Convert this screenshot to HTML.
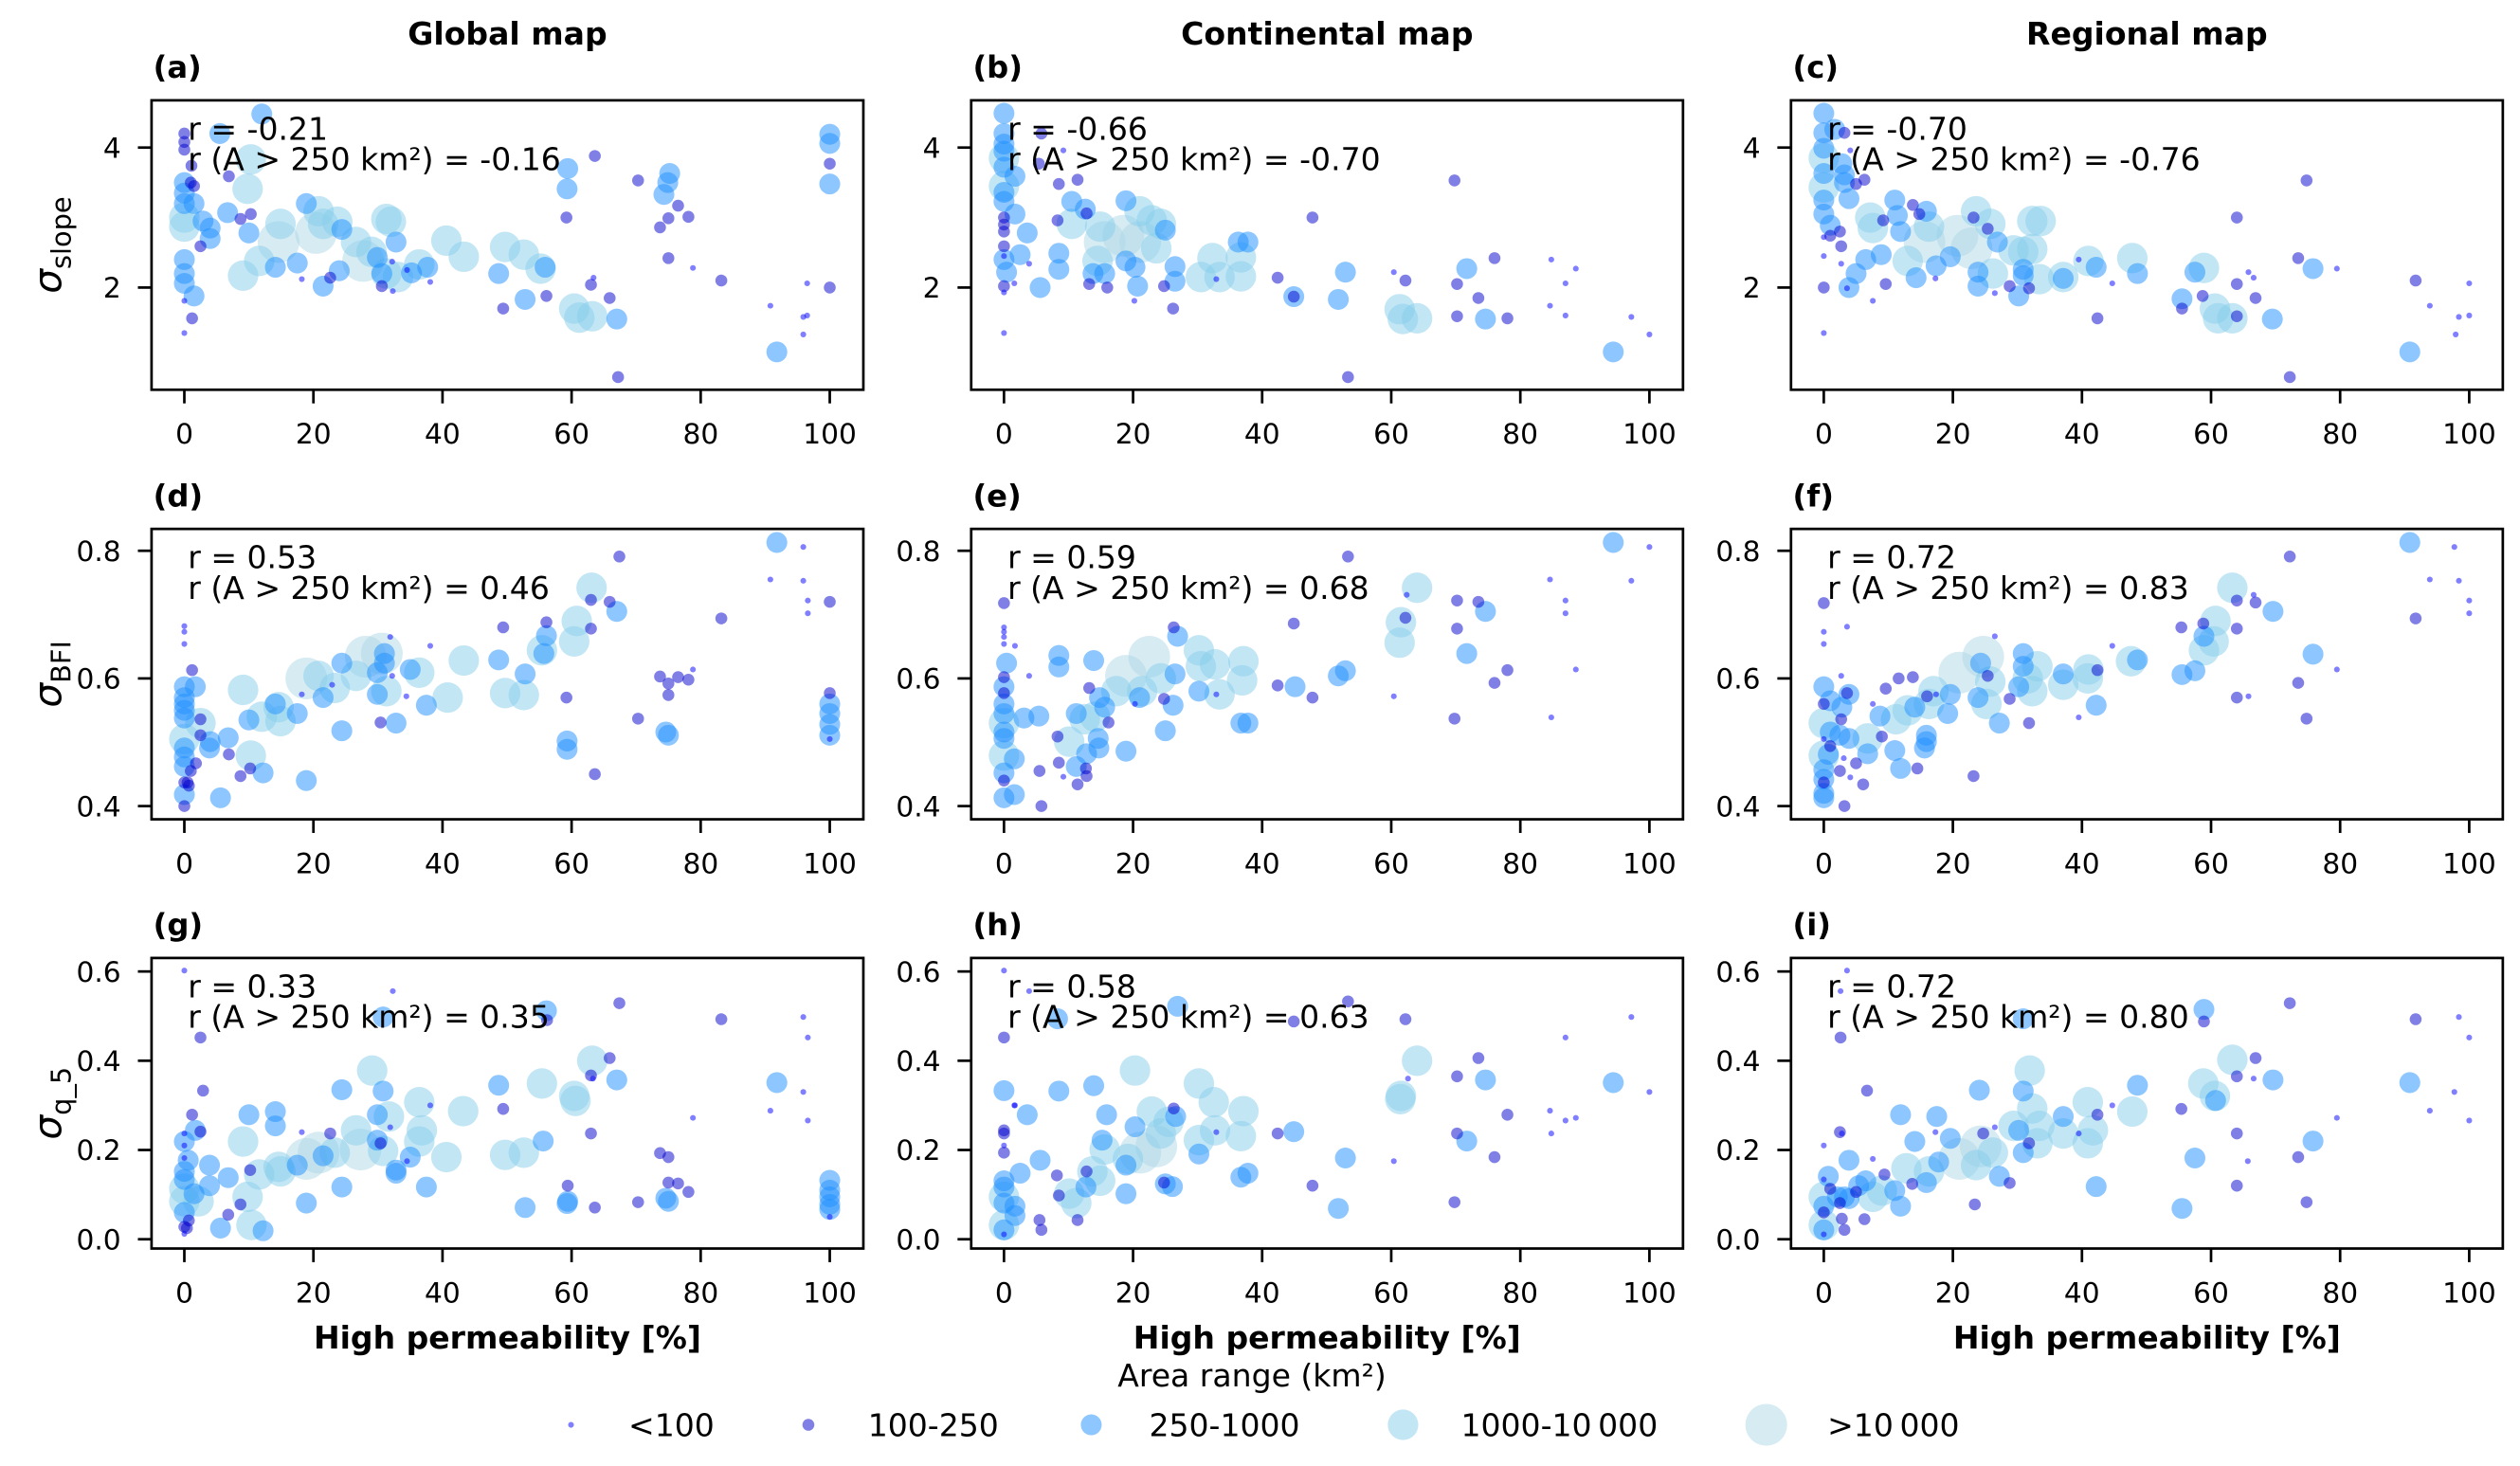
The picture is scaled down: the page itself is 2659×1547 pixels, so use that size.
<!DOCTYPE html>
<html><head><meta charset="utf-8">
<style>
html,body{margin:0;padding:0;background:#fff;}
svg{display:block;}
text{font-family:"DejaVu Sans","Liberation Sans",sans-serif;fill:#000;}
</style></head>
<body>
<svg id="fig" xmlns="http://www.w3.org/2000/svg" width="2659" height="1547" viewBox="0 0 1568 912"></svg>
<script>
// ---- data: [high permeability %, value, area class] ----
const sizeClasses = ["<100","100-250","250-1000","1000-10\u2009000",">10\u2009000"];
const colTitles = ["Global map","Continental map","Regional map"];
const panelLetters = ["(a)","(b)","(c)","(d)","(e)","(f)","(g)","(h)","(i)"];
const rValues = ["-0.21","-0.66","-0.70","0.53","0.59","0.72","0.33","0.58","0.72"];
const rLargeValues = ["-0.16","-0.70","-0.76","0.46","0.68","0.83","0.35","0.63","0.80"];
const yTicksSlope = [2,4];
const yTicksBFI = [0.4,0.6,0.8];
const yTicksQ5 = [0.0,0.2,0.4,0.6];
const xTicks = [0,20,40,60,80,100];

const panelA = [[12,4.48,2],[5.5,4.2,2],[10.3,3.83,3],[9.8,3.41,3],[6.9,3.59,1],[0,4.2,1],[0,4.08,1],[0,3.97,1],[1.1,3.74,1],[0,3.5,2],[1,3.5,1],[1.5,3.45,1],[0,3.35,2],[0,3.2,2],[1.5,3.2,2],[0,3.0,3],[0,2.87,3],[2.9,2.95,2],[4,2.85,2],[4,2.7,2],[2.5,2.59,1],[0,2.4,2],[0,2.2,2],[0,2.06,2],[1.5,1.88,2],[1.2,1.56,1],[0,1.81,0],[0,1.35,0],[6.7,3.07,2],[8.7,2.98,1],[10.3,3.05,1],[10,2.78,2],[9.1,2.17,3],[11.6,2.38,3],[14.9,2.91,3],[14.6,2.65,4],[14.1,2.29,2],[17.5,2.35,2],[18.9,3.2,2],[20.8,3.09,3],[20.4,2.78,4],[21.5,2.91,3],[23.7,2.94,3],[24.4,2.83,2],[18.2,2.12,0],[21.5,2.02,2],[22.6,2.14,1],[24,2.24,2],[26.6,2.65,3],[29,2.51,3],[27.7,2.38,4],[31.3,2.98,3],[32,2.94,3],[32.8,2.65,2],[29.9,2.43,2],[30.6,2.2,2],[30.6,2.02,1],[32.2,2.37,0],[34.5,2.25,0],[32.3,1.95,0],[38.1,2.08,0],[31.3,2.2,3],[33.1,2.15,3],[36.4,2.33,3],[37.7,2.29,2],[35.2,2.21,2],[40.6,2.67,3],[43.3,2.44,3],[48.7,2.2,2],[49.7,2.58,3],[52.6,2.47,3],[55.2,2.27,3],[55.9,2.29,2],[49.4,1.7,1],[52.8,1.83,2],[56.1,1.88,1],[59.4,3.7,2],[59.3,3.41,2],[59.2,3.0,1],[63.6,3.88,1],[60.4,1.7,3],[61.2,1.57,3],[63.2,1.59,3],[63,2.04,1],[63.4,2.14,0],[65.9,1.85,1],[67,1.55,2],[67.2,0.72,1],[70.3,3.53,1],[75.2,3.63,2],[74.9,3.5,2],[74.3,3.33,2],[76.5,3.17,1],[75,2.99,1],[73.7,2.86,1],[78.1,3.01,1],[75,2.42,1],[78.8,2.28,0],[83.2,2.1,1],[91.8,1.08,2],[90.8,1.74,0],[96.5,2.06,0],[96.5,1.6,0],[95.9,1.58,0],[95.9,1.33,0],[100,4.19,2],[100,4.06,2],[100,3.77,1],[100,3.48,2],[100,2.0,1]];

const panelB = [[0,4.49,2],[0,4.2,2],[0,4.05,2],[0,3.95,2],[0,3.85,3],[0,3.72,2],[1.7,3.59,2],[0,3.45,3],[0,3.36,2],[0,3.23,2],[5.8,4.2,1],[9.2,3.96,0],[5.4,3.77,1],[8.5,3.48,1],[11.4,3.54,1],[1.7,3.05,2],[0,3.0,1],[0,2.9,1],[0,2.8,1],[0,2.59,1],[3.6,2.78,2],[2.5,2.47,2],[0,2.4,2],[0.4,2.22,2],[0,2.45,0],[3.9,2.34,0],[1.6,2.06,0],[0,2.02,1],[0,1.93,0],[5.6,2.0,2],[0,1.35,0],[8.5,2.49,2],[8.5,2.26,2],[10.5,3.23,2],[10.5,2.91,3],[8.3,2.96,1],[12.8,3.06,1],[12.6,3.12,2],[14.9,2.87,3],[15.6,2.65,4],[14.5,2.38,3],[13.8,2.2,2],[15.6,2.2,2],[13.2,2.05,1],[16,2.0,1],[18.9,3.24,2],[21,3.09,3],[22.9,2.96,3],[24.3,2.91,3],[18.5,2.74,4],[21.1,2.65,4],[23.6,2.56,3],[18.9,2.38,2],[20.3,2.29,2],[20.7,2.02,2],[20.2,1.81,0],[25,2.82,2],[26.5,2.3,2],[26.5,2.09,2],[24.8,2.02,1],[26.2,1.7,1],[30.5,2.15,3],[32.3,2.42,3],[33.4,2.15,3],[36.7,2.43,3],[36.7,2.16,3],[36.3,2.65,2],[37.8,2.65,2],[32.9,2.12,0],[42.4,2.14,1],[44.9,1.87,2],[44.9,1.87,1],[47.8,3.0,1],[52.9,2.22,2],[51.8,1.83,2],[53.3,0.72,1],[60.4,2.22,0],[62.2,2.1,1],[61.3,1.69,3],[61.8,1.55,3],[64,1.56,3],[69.8,3.53,1],[70.2,2.05,1],[71.7,2.27,2],[76,2.42,1],[73.5,1.85,1],[70.2,1.59,1],[74.6,1.55,2],[78,1.56,1],[84.8,2.4,0],[88.6,2.27,0],[87,2.06,0],[84.6,1.74,0],[87,1.6,0],[97.2,1.58,0],[100,1.33,0],[94.4,1.08,2]];

const panelC = [[0,4.49,2],[0,4.21,2],[1.7,4.26,2],[3.2,4.21,1],[0,3.99,2],[4.1,3.96,0],[0,3.85,3],[2.8,3.77,2],[3.2,3.61,2],[6.3,3.54,1],[5,3.48,1],[0,3.63,2],[0,3.43,3],[0,3.25,2],[0,3.05,2],[3.2,3.5,2],[3.9,3.27,2],[1,2.89,2],[2.5,2.8,1],[1,2.74,1],[0,2.72,0],[2.7,2.59,1],[0,2.45,0],[2.7,2.34,0],[0,2.0,1],[3.9,2.0,2],[3.6,1.99,0],[7.6,1.81,0],[0,1.35,0],[6.5,2.4,2],[5,2.2,2],[8.9,2.47,2],[9.6,2.05,1],[11,3.25,2],[13.8,3.18,1],[7.2,3.0,3],[7.6,2.85,3],[11.4,3.03,2],[11.9,2.8,2],[9.2,2.96,1],[15.9,3.09,2],[14.8,3.05,1],[16.3,2.87,3],[15.6,2.65,4],[13,2.38,3],[14.3,2.14,2],[17.4,2.31,2],[17.3,2.13,0],[19.6,2.44,2],[20.7,2.74,4],[23.6,3.09,3],[23.2,3.0,1],[22.9,2.56,4],[25.8,2.91,3],[25.4,2.84,1],[26.2,2.2,3],[23.9,2.22,2],[23.9,2.02,2],[26.9,2.65,2],[29.4,2.53,3],[30.9,2.51,3],[32.3,2.55,3],[32.3,2.95,3],[33.6,2.95,3],[30.9,2.26,2],[30.9,2.17,2],[30.2,1.88,2],[28.8,2.02,1],[31.8,1.99,1],[26.5,1.92,0],[33.4,2.12,3],[37.1,2.15,3],[37.1,2.13,2],[39.5,2.4,0],[41,2.38,3],[42.2,2.29,2],[44.7,2.06,0],[42.4,1.56,1],[47.8,2.42,3],[48.6,2.2,2],[55.5,1.84,2],[55.5,1.7,1],[57.5,2.22,2],[58.9,2.28,3],[58.7,1.88,1],[60.6,1.7,3],[61.1,1.56,3],[63.3,1.56,3],[64,1.59,1],[64,3.0,1],[64,2.05,1],[65.8,2.22,0],[66.6,2.14,0],[66.9,1.85,1],[69.5,1.55,2],[74.8,3.53,1],[73.5,2.42,1],[75.8,2.27,2],[79.5,2.27,0],[72.2,0.72,1],[90.8,1.08,2],[91.7,2.1,1],[93.9,1.74,0],[100,2.06,0],[100,1.6,0],[98.4,1.58,0],[97.9,1.33,0]];

const panelD = [[91.8,0.813,2],[95.9,0.806,0],[90.8,0.755,0],[95.9,0.753,0],[96.6,0.722,0],[96.6,0.702,0],[100,0.72,1],[67.4,0.791,1],[63.1,0.742,3],[63,0.723,1],[65.9,0.72,1],[67,0.705,2],[60.8,0.69,3],[60.4,0.658,3],[63,0.678,1],[56.1,0.688,1],[56.1,0.667,2],[55.4,0.644,3],[55.7,0.639,2],[49.4,0.68,1],[83.2,0.694,1],[78.8,0.614,0],[73.7,0.603,1],[75,0.592,1],[76.5,0.602,1],[78.1,0.598,1],[75,0.574,1],[74.6,0.516,2],[75,0.511,2],[70.3,0.537,1],[59.2,0.57,1],[59.3,0.502,2],[59.3,0.489,2],[63.6,0.45,1],[100,0.577,1],[100,0.56,2],[100,0.545,2],[100,0.528,2],[100,0.511,2],[100,0.505,0],[43.3,0.628,3],[48.7,0.629,2],[52.8,0.607,2],[49.7,0.577,3],[52.6,0.574,3],[40.8,0.57,3],[37.5,0.558,2],[36.4,0.609,3],[35,0.614,2],[38.1,0.651,0],[34.4,0.572,0],[31.9,0.665,0],[31,0.639,2],[31,0.624,2],[29.9,0.609,2],[29.9,0.575,2],[28.1,0.634,4],[30.6,0.639,4],[31.3,0.58,3],[32.2,0.604,0],[32.8,0.53,2],[30.4,0.531,1],[26.6,0.604,3],[24.4,0.624,2],[23.3,0.585,3],[21.5,0.57,2],[18.9,0.6,4],[20.8,0.604,3],[18.2,0.575,0],[22.9,0.59,0],[17.5,0.545,2],[24.4,0.518,2],[18.9,0.44,2],[14.6,0.555,3],[14.9,0.533,3],[14.1,0.56,2],[12,0.54,3],[10,0.535,2],[9.1,0.582,3],[10.3,0.479,3],[12.2,0.452,2],[10.2,0.459,1],[8.7,0.447,1],[6.9,0.481,1],[6.8,0.507,2],[5.6,0.413,2],[3.9,0.491,2],[4,0.501,2],[2.5,0.536,1],[2.5,0.511,1],[2.5,0.53,3],[0,0.682,0],[0,0.673,0],[0,0.654,0],[1.2,0.613,1],[0,0.587,2],[1.7,0.587,2],[0,0.57,2],[0,0.56,2],[0,0.55,2],[0,0.538,2],[0,0.505,3],[0,0.491,2],[0,0.477,2],[0,0.462,2],[1,0.455,1],[1.8,0.467,1],[0,0.437,1],[0.5,0.437,1],[0.7,0.432,1],[0,0.418,2],[0,0.4,1]];

const panelE = [[94.4,0.813,2],[100,0.806,0],[84.6,0.755,0],[97.2,0.753,0],[87,0.722,0],[87,0.702,0],[53.3,0.791,1],[64,0.742,3],[62.4,0.731,0],[61.5,0.688,3],[62.2,0.695,1],[61.3,0.656,3],[70.2,0.722,1],[73.5,0.72,1],[74.6,0.705,2],[70.2,0.678,1],[71.7,0.639,2],[78,0.613,1],[76,0.593,1],[88.6,0.614,0],[60.4,0.572,0],[69.8,0.537,1],[84.8,0.539,0],[44.9,0.686,1],[51.8,0.604,2],[52.9,0.612,2],[45.1,0.587,2],[42.4,0.589,1],[47.8,0.57,1],[36.7,0.53,2],[37.8,0.53,2],[37.1,0.627,3],[36.9,0.597,3],[33.4,0.575,3],[32.9,0.575,0],[30.2,0.644,3],[32.7,0.622,3],[30.5,0.619,3],[30.2,0.58,2],[26.9,0.666,2],[26.3,0.68,1],[26.5,0.607,2],[26.2,0.558,2],[25,0.518,2],[24.8,0.568,1],[22.5,0.634,4],[18.9,0.604,4],[24.3,0.6,3],[21.4,0.58,3],[21,0.57,2],[20.3,0.56,0],[17.4,0.58,3],[15.6,0.555,2],[14.8,0.57,2],[16.2,0.531,1],[14.1,0.54,3],[13.2,0.585,1],[13.9,0.628,2],[8.5,0.636,2],[8.5,0.618,2],[3.9,0.604,0],[11.2,0.545,2],[12.5,0.536,3],[10.1,0.501,3],[12.8,0.482,2],[14.6,0.506,2],[14.7,0.491,2],[8.3,0.509,1],[11.2,0.462,2],[12.7,0.459,1],[12.8,0.447,1],[11.4,0.434,1],[9.2,0.446,0],[8.5,0.468,1],[5.5,0.455,1],[5.8,0.4,1],[18.9,0.486,2],[3.1,0.538,2],[5.4,0.541,2],[0,0.718,1],[0,0.68,0],[0,0.673,0],[0,0.665,0],[0,0.654,0],[1.7,0.651,0],[0.4,0.624,2],[0,0.602,1],[0,0.587,2],[0,0.577,1],[0,0.56,2],[0,0.545,2],[0,0.53,3],[0,0.516,2],[0,0.506,2],[0,0.479,3],[1.6,0.474,2],[0,0.452,2],[0,0.44,1],[0,0.413,2],[1.6,0.418,2]];

const panelF = [[90.8,0.813,2],[97.7,0.806,0],[93.9,0.755,0],[98.4,0.753,0],[100,0.722,0],[100,0.702,0],[91.7,0.694,1],[72.2,0.791,1],[63.3,0.742,3],[64,0.722,1],[66.9,0.719,1],[66.6,0.731,0],[69.6,0.705,2],[60.7,0.69,3],[60.4,0.658,3],[64,0.678,1],[55.4,0.68,1],[58.8,0.686,1],[58.9,0.666,2],[58.9,0.644,3],[55.5,0.606,2],[57.5,0.612,2],[75.8,0.638,2],[79.5,0.614,0],[73.5,0.593,1],[64,0.57,1],[65.8,0.572,0],[74.8,0.537,1],[44.7,0.651,0],[48.6,0.629,2],[47.6,0.627,3],[42.4,0.613,1],[41,0.614,3],[40.9,0.6,3],[42.2,0.558,2],[39.5,0.539,0],[37.1,0.607,2],[37.1,0.59,3],[33.1,0.619,3],[32.3,0.58,3],[31.6,0.6,3],[30.9,0.639,2],[30.9,0.619,2],[30.2,0.587,2],[28.8,0.568,1],[31.8,0.53,1],[27.2,0.53,2],[26.5,0.666,0],[24.7,0.634,4],[24.3,0.624,2],[21,0.609,4],[25.8,0.595,3],[25.4,0.604,1],[23.9,0.57,2],[25.2,0.56,3],[19.6,0.575,2],[17,0.58,3],[16.3,0.56,3],[16,0.572,1],[17.4,0.575,0],[19.2,0.545,2],[15.9,0.511,2],[15.9,0.501,2],[15.6,0.491,2],[14.5,0.459,1],[23.2,0.447,1],[13.8,0.602,1],[11.6,0.6,1],[9.6,0.584,1],[13,0.55,3],[14.1,0.555,2],[11.2,0.536,3],[8.7,0.541,2],[7.6,0.56,0],[9,0.509,1],[6.8,0.506,3],[6.8,0.482,2],[11,0.487,2],[11.9,0.459,2],[5,0.467,1],[6.1,0.434,1],[4.1,0.445,0],[3.2,0.4,1],[0,0.587,2],[3.9,0.575,2],[3.6,0.577,1],[1,0.565,2],[0,0.56,1],[2.8,0.555,2],[2.7,0.536,1],[0,0.53,3],[1,0.516,2],[2.5,0.511,2],[3.9,0.506,2],[1,0.494,1],[0,0.505,0],[0,0.479,3],[0.7,0.481,2],[3.1,0.475,0],[0,0.457,2],[2.5,0.455,1],[0,0.442,2],[0,0.437,1],[0,0.42,2],[0,0.413,2],[2.7,0.604,0],[0,0.718,1],[0,0.673,0],[0,0.654,0],[3.6,0.681,0]];

const panelG = [[0,0.602,0],[32.3,0.556,0],[30.8,0.498,2],[56.1,0.512,2],[56.2,0.491,1],[67.4,0.529,1],[83.2,0.493,1],[2.5,0.452,1],[95.9,0.498,0],[96.6,0.452,0],[63.2,0.4,3],[65.9,0.406,1],[63,0.367,1],[63.3,0.36,0],[67,0.357,2],[55.4,0.349,3],[60.4,0.321,3],[60.6,0.31,3],[48.7,0.345,2],[49.4,0.292,1],[43.2,0.287,3],[63,0.237,1],[55.6,0.22,2],[52.6,0.194,3],[49.7,0.189,3],[91.8,0.351,2],[95.9,0.33,0],[90.8,0.288,0],[96.6,0.266,0],[78.8,0.272,0],[73.7,0.193,1],[75,0.184,1],[75,0.127,1],[76.5,0.125,1],[78.1,0.106,1],[74.6,0.092,2],[75,0.085,2],[70.3,0.083,1],[59.4,0.12,1],[59.4,0.085,2],[59.3,0.08,2],[63.6,0.071,1],[52.8,0.071,2],[100,0.132,2],[100,0.11,2],[100,0.095,2],[100,0.078,2],[100,0.067,2],[100,0.05,0],[29.1,0.378,3],[30.8,0.332,2],[36.4,0.307,3],[38.1,0.3,0],[36.8,0.244,3],[36.4,0.219,3],[29.9,0.279,2],[31.7,0.275,3],[31.9,0.251,0],[29.9,0.222,2],[30.4,0.215,1],[30.8,0.198,3],[26.6,0.244,3],[27.3,0.201,4],[35,0.184,2],[34.5,0.175,0],[32.8,0.155,2],[32.8,0.148,2],[37.5,0.117,2],[40.6,0.184,3],[24.4,0.335,2],[24.4,0.117,2],[22.6,0.237,1],[21.5,0.187,2],[20.8,0.194,4],[23.3,0.194,3],[18.9,0.18,4],[17.5,0.166,2],[18.2,0.24,0],[18.9,0.081,2],[14.6,0.162,3],[14.9,0.152,3],[11.6,0.145,3],[14.1,0.286,2],[14.1,0.254,2],[10,0.279,2],[9.1,0.219,3],[10.2,0.155,1],[9.8,0.095,3],[10.4,0.032,3],[12.2,0.019,2],[8.7,0.078,1],[6.8,0.055,1],[5.6,0.025,2],[6.8,0.138,2],[3.9,0.12,2],[3.9,0.166,2],[2.9,0.333,1],[1.2,0.279,1],[1.7,0.244,2],[2.5,0.241,1],[0,0.237,0],[0,0.219,2],[0,0.21,0],[0.6,0.177,2],[0,0.182,0],[0,0.152,2],[0,0.134,2],[0,0.113,3],[0,0.085,3],[2.2,0.085,3],[1.5,0.102,2],[0,0.06,2],[0.7,0.042,1],[0,0.028,1],[0.4,0.025,1],[0,0.012,0]];

const panelH = [[0,0.602,0],[3.9,0.556,0],[26.9,0.522,2],[53.3,0.533,1],[8.3,0.494,2],[44.9,0.488,1],[62.2,0.493,1],[0,0.452,1],[97.2,0.498,0],[87,0.452,0],[100,0.33,0],[84.6,0.288,0],[87,0.266,0],[88.6,0.272,0],[84.8,0.237,0],[64,0.4,3],[73.5,0.406,1],[70.2,0.365,1],[74.6,0.357,2],[62.6,0.36,0],[61.5,0.321,3],[61.4,0.314,3],[94.4,0.351,2],[78,0.279,1],[70.2,0.237,1],[71.7,0.22,2],[76,0.184,1],[69.8,0.083,1],[60.4,0.175,0],[52.9,0.182,2],[47.8,0.12,1],[51.8,0.069,2],[44.9,0.241,2],[42.4,0.237,1],[20.3,0.378,3],[30.2,0.349,3],[32.5,0.307,3],[37.1,0.287,3],[36.7,0.231,3],[32.7,0.244,3],[32.9,0.24,0],[30.2,0.222,3],[30.2,0.191,2],[36.7,0.139,2],[37.8,0.148,2],[26.3,0.293,1],[26.6,0.275,2],[25.5,0.263,3],[24.3,0.237,3],[22.9,0.286,3],[20.3,0.252,2],[23.6,0.208,4],[21.1,0.194,4],[19.2,0.18,3],[18.9,0.166,2],[15.6,0.201,3],[15.2,0.222,2],[15.9,0.279,2],[13.9,0.344,2],[8.5,0.332,2],[3.6,0.279,2],[1.7,0.3,0],[5.6,0.177,2],[2.5,0.148,2],[8.2,0.143,1],[12.8,0.152,1],[13.7,0.152,3],[14.9,0.131,3],[12.7,0.117,2],[10.1,0.102,3],[11.2,0.081,3],[18.9,0.102,2],[25,0.124,2],[24.8,0.127,1],[26.1,0.118,2],[8.5,0.098,1],[11.4,0.043,1],[5.5,0.043,1],[5.8,0.021,1],[0,0.333,2],[1.6,0.3,0],[0,0.244,1],[0,0.237,1],[0,0.21,0],[0,0.194,1],[0,0.131,2],[0,0.117,2],[0,0.095,3],[0,0.081,2],[1.7,0.074,2],[1.7,0.053,2],[0,0.032,3],[0,0.021,2],[0,0.011,0]];

const panelI = [[3.6,0.602,0],[2.6,0.556,0],[30.9,0.494,2],[58.9,0.515,2],[58.9,0.488,1],[72.2,0.529,1],[91.7,0.493,1],[98.4,0.498,0],[100,0.452,0],[2.6,0.452,1],[31.9,0.378,3],[63.3,0.402,3],[66.9,0.406,1],[64,0.365,1],[66.6,0.36,0],[69.6,0.357,2],[58.8,0.349,3],[60.6,0.321,3],[60.7,0.311,2],[48.6,0.345,2],[55.4,0.292,1],[90.8,0.351,2],[97.7,0.33,0],[93.9,0.288,0],[100,0.266,0],[79.5,0.272,0],[64,0.237,1],[75.8,0.22,2],[73.5,0.184,1],[65.7,0.175,0],[57.5,0.182,2],[64,0.12,1],[74.8,0.083,1],[55.5,0.069,2],[42.2,0.118,2],[47.8,0.286,3],[44.7,0.3,0],[40.9,0.307,3],[41.7,0.244,3],[40.9,0.215,3],[42.4,0.279,1],[39.5,0.237,0],[37.1,0.275,2],[37.1,0.237,3],[32.3,0.293,3],[30.9,0.332,2],[33.4,0.254,3],[33.1,0.215,3],[31.8,0.215,1],[30.9,0.194,2],[30.2,0.244,2],[29.4,0.254,3],[28.8,0.126,1],[27.2,0.141,2],[26.5,0.251,0],[24.1,0.334,2],[24.7,0.237,1],[24.3,0.208,4],[26.2,0.194,3],[23.6,0.166,3],[21,0.18,4],[19.6,0.226,2],[17.3,0.24,0],[17.5,0.275,2],[17.8,0.173,2],[16.3,0.152,3],[15.9,0.127,2],[14.1,0.219,2],[12.8,0.159,3],[13.7,0.124,1],[23.4,0.078,1],[11.9,0.279,2],[11,0.109,2],[11.9,0.074,2],[9.4,0.145,1],[9,0.109,3],[7.6,0.18,0],[6.7,0.333,1],[7.6,0.095,3],[6.5,0.131,2],[6.3,0.045,1],[3.9,0.177,2],[2.5,0.24,1],[2.8,0.237,0],[0,0.21,0],[0,0.134,0],[0.7,0.141,2],[1,0.113,1],[3.2,0.095,2],[3.9,0.091,2],[2.1,0.095,2],[0,0.095,3],[0,0.074,2],[2.5,0.081,1],[0,0.06,1],[2.8,0.046,1],[3.2,0.021,1],[0,0.032,3],[0,0.021,2],[0,0.011,0],[5,0.106,1],[5.4,0.12,2]];

const panelData = [panelA,panelB,panelC,panelD,panelE,panelF,panelG,panelH,panelI];
</script>
<script>
const NS = "http://www.w3.org/2000/svg";
const svg = document.getElementById('fig');
const colLeft = [94.3, 604.3, 1114.4];
const axW = 442.9;
const rowTop = [62.3, 329.0, 596.0];
const rowBot = [242.4, 509.7, 776.8];
const rowY = [
  v => 91.7 + (4 - v) * 43.55,
  v => 342.6 + (0.8 - v) * 397.2,
  v => 604.4 + (0.6 - v) * 277.7
];
const rowTicks = [yTicksSlope, yTicksBFI, yTicksQ5];
const rowTickFmt = [v => String(v), v => v.toFixed(1), v => v.toFixed(1)];
const rowLabelSub = ["slope","BFI","q_5"];
const radius = [1.8, 3.7, 6.5, 9.5, 13];
const colors = ["#0000ff","#0000cd","#1e90ff","#87ceeb","#add8e6"];
function xScale(col, v){ return colLeft[col] + 20.4 + v * 4.016; }

function mk(tag, attrs, parent){
  const e = document.createElementNS(NS, tag);
  for (const k in attrs) e.setAttribute(k, attrs[k]);
  (parent || svg).appendChild(e);
  return e;
}

colTitles.forEach((t, c) => {
  const e = mk('text', {x: colLeft[c] + axW/2, y: 27.5, 'text-anchor':'middle', 'font-size':19.5, 'font-weight':'bold'});
  e.textContent = t;
  
  
});

const defs = mk('defs', {});
for (let r = 0; r < 3; r++){
  for (let c = 0; c < 3; c++){
    const idx = r*3 + c;
    const L = colLeft[c], T = rowTop[r], B = rowBot[r];
    const g = mk('g', {});
    
    
    const cp = mk('clipPath', {id: 'clip' + idx}, defs);
    mk('rect', {x: L, y: T, width: axW, height: B - T}, cp);

    const pl = mk('text', {x: L + 1, y: T - 14, 'font-size':19, 'font-weight':'bold'}, g);
    pl.textContent = panelLetters[idx];
    
    

    const pg = mk('g', {'clip-path': 'url(#clip' + idx + ')'}, g);
    
    
    const pts = panelData[idx];
    for (let s = 4; s >= 0; s--){
      pts.forEach(p => {
        if (p[2] !== s) return;
        const ci = mk('circle', {cx: xScale(c, p[0]).toFixed(2), cy: rowY[r](p[1]).toFixed(2), r: radius[s], fill: colors[s], 'fill-opacity': 0.5}, pg);
        
        
      });
    }

    const a1 = mk('text', {x: L + 22.6, y: T + 24.5, 'font-size':19.5}, g);
    a1.textContent = 'r = ' + rValues[idx];
    
    
    const a2 = mk('text', {x: L + 22.6, y: T + 43.5, 'font-size':19.5}, g);
    a2.textContent = 'r (A > 250 km\u00b2) = ' + rLargeValues[idx];
    
    

    const fr = mk('rect', {x: L, y: T, width: axW, height: B - T, fill: 'none', stroke: '#000', 'stroke-width': 1.6}, g);
    
    

    xTicks.forEach(v => {
      const x = xScale(c, v);
      const tk = mk('line', {x1: x, x2: x, y1: B, y2: B + 8.5, stroke: '#000', 'stroke-width': 1.6}, g);
      
      
      const tl = mk('text', {x: x, y: B + 33.5, 'text-anchor':'middle', 'font-size':17.5}, g);
      tl.textContent = String(v);
      
      
    });
    rowTicks[r].forEach(v => {
      const y = rowY[r](v);
      const tk = mk('line', {x1: L - 8.5, x2: L, y1: y, y2: y, stroke: '#000', 'stroke-width': 1.6}, g);
      
      
      const tl = mk('text', {x: L - 19, y: y + 6.3, 'text-anchor':'end', 'font-size':17.5}, g);
      tl.textContent = rowTickFmt[r](v);
      
      
    });

    if (c === 0){
      const cy = (T + B)/2;
      const yl = mk('text', {x: 0, y: 0, 'text-anchor':'middle', transform: 'translate(38,' + cy + ') rotate(-90)', 'font-size':24}, g);
      
      
      const s1 = mk('tspan', {'font-style':'italic'}, yl);
      s1.textContent = '\u03c3';
      const s2 = mk('tspan', {'font-size':17, dy: 6}, yl);
      s2.textContent = rowLabelSub[r];
    }
    if (r === 2){
      const xl = mk('text', {x: L + axW/2, y: 839, 'text-anchor':'middle', 'font-size':19.5, 'font-weight':'bold'}, g);
      xl.textContent = 'High permeability [%]';
      
      
    }
  }
}

const lg = mk('g', {});


const lt = mk('text', {x: 779, y: 862.5, 'text-anchor':'middle', 'font-size':19.5}, lg);
lt.textContent = 'Area range (km\u00b2)';


const legMarkX = [355.3, 503, 679, 873, 1099];
const legLabelX = [391, 540, 715, 909, 1137];
sizeClasses.forEach((name, i) => {
  const eg = mk('g', {}, lg);
  
  
  mk('circle', {cx: legMarkX[i], cy: 886.5, r: radius[i], fill: colors[i], 'fill-opacity': 0.5}, eg);
  const t = mk('text', {x: legLabelX[i], y: 893.5, 'font-size':19.5}, eg);
  t.textContent = name;
});
</script>
</body></html>
